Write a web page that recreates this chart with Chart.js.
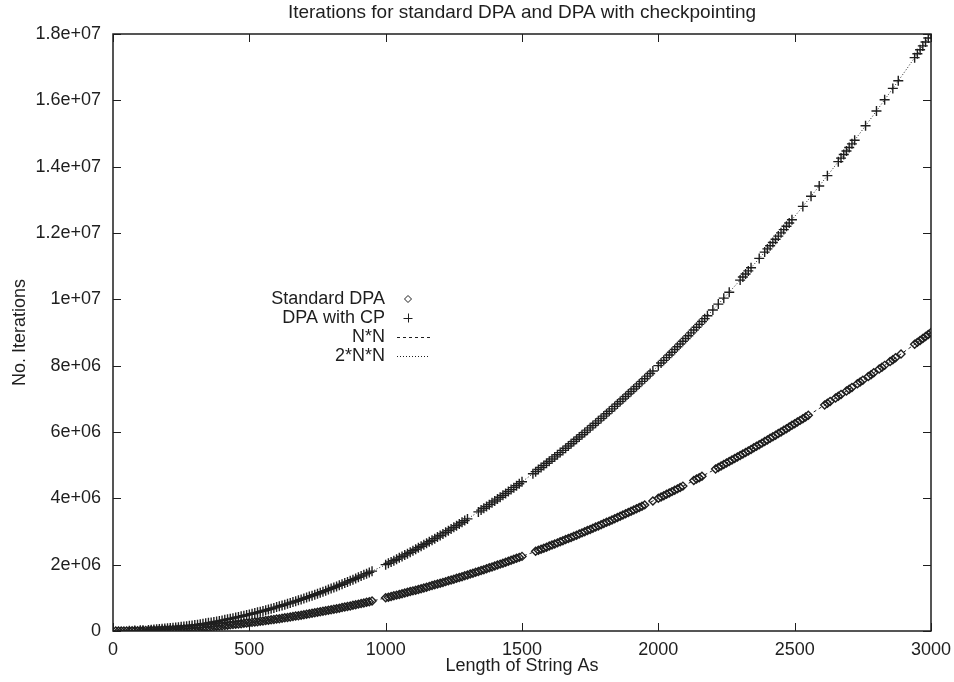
<!DOCTYPE html>
<html><head><meta charset="utf-8">
<script src="https://cdn.jsdelivr.net/npm/chart.js@4.4.1/dist/chart.umd.min.js"></script>
<style>html,body{margin:0;padding:0;background:#fff}</style>
</head><body>
<canvas id="c" width="954" height="682"></canvas>
<script>
const chartTitle = "Iterations for standard DPA and DPA with checkpointing";
const xAxisTitle = "Length of String As";
const yAxisTitle = "No. Iterations";
const seriesLabels = ["Standard DPA", "DPA with CP", "N*N", "2*N*N"];
const xTicks = [0, 500, 1000, 1500, 2000, 2500, 3000];
const xTickLabels = ["0", "500", "1000", "1500", "2000", "2500", "3000"];
const yTicks = [0, 2e6, 4e6, 6e6, 8e6, 1e7, 1.2e7, 1.4e7, 1.6e7, 1.8e7];
const yTickLabels = ["0", "2e+06", "4e+06", "6e+06", "8e+06", "1e+07", "1.2e+07", "1.4e+07", "1.6e+07", "1.8e+07"];

const stdX = [10,50,70,90,100,120,140,150,170,190,200,220,240,250,270,290,310,330,340,360,380,400,420,430,450,470,490,510,530,550,560,580,600,620,640,660,680,690,710,730,750,770,790,800,820,840,860,880,900,910,930,950,1000,1010,1030,1050,1070,1090,1110,1130,1150,1170,1190,1210,1230,1250,1270,1290,1300,1320,1340,1360,1380,1400,1420,1440,1460,1480,1490,1500,1550,1570,1590,1610,1630,1640,1660,1680,1700,1720,1740,1760,1780,1800,1820,1840,1860,1880,1900,1920,1940,1950,1980,2000,2020,2040,2060,2080,2090,2130,2150,2160,2210,2230,2250,2270,2290,2310,2330,2350,2370,2390,2410,2430,2450,2470,2490,2510,2530,2550,2610,2630,2650,2670,2690,2710,2730,2750,2770,2790,2810,2830,2850,2870,2890,2940,2960,2970,2990,3000,
  20,30,40,60,80,110,130,160,180,210,230,260,280,300,320,350,370,390,410,440,460,480,500,520,540,570,590,610,630,650,670,700,720,740,760,780,810,830,850,870,890,920,940,
  1020,1040,1060,1080,1100,1120,1140,1160,1180,1200,1220,1240,1260,1280,1310,1330,1350,1370,1390,1410,1430,1450,1470,
  1560,1580,1600,1620,1650,1670,1690,1710,1730,1750,1770,1790,1810,1830,1850,1870,1890,1910,1930,
  2010,2030,2050,2070,2140,2220,2240,2260,2280,2300,2320,2340,2360,2380,2400,2420,2440,2460,2480,2500,2520,2540,
  2620,2660,2700,2740,2780,2820,2860,2950,2980];
const stdY = [100,2500,4900,8100,10000,14400,19600,22500,28900,36100,40000,48400,57600,62500,72900,84100,96100,108900,115600,129600,144400,160000,176400,184900,202500,220900,240100,260100,280900,302500,313600,336400,360000,384400,409600,435600,462400,476100,504100,532900,562500,592900,624100,640000,672400,705600,739600,774400,810000,828100,864900,902500,1000000,1020100,1060900,1102500,1144900,1188100,1232100,1276900,1322500,1368900,1416100,1464100,1512900,1562500,1612900,1664100,1690000,1742400,1795600,1849600,1904400,1960000,2016400,2073600,2131600,2190400,2220100,2250000,2402500,2464900,2528100,2592100,2656900,2689600,2755600,2822400,2890000,2958400,3027600,3097600,3168400,3240000,3312400,3385600,3459600,3534400,3610000,3686400,3763600,3802500,3920400,4000000,4080400,4161600,4243600,4326400,4368100,4536900,4622500,4665600,4884100,4972900,5062500,5152900,5244100,5336100,5428900,5522500,5616900,5712100,5808100,5904900,6002500,6100900,6200100,6300100,6400900,6502500,6812100,6916900,7022500,7128900,7236100,7344100,7452900,7562500,7672900,7784100,7896100,8008900,8122500,8236900,8352100,8643600,8761600,8820900,8940100,9000000,
  400,900,1600,3600,6400,12100,16900,25600,32400,44100,52900,67600,78400,90000,102400,122500,136900,152100,168100,193600,211600,230400,250000,270400,291600,324900,348100,372100,396900,422500,448900,490000,518400,547600,577600,608400,656100,688900,722500,756900,792100,846400,883600,
  1040400,1081600,1123600,1166400,1210000,1254400,1299600,1345600,1392400,1440000,1488400,1537600,1587600,1638400,1716100,1768900,1822500,1876900,1932100,1988100,2044900,2102500,2160900,
  2433600,2496400,2560000,2624400,2722500,2788900,2856100,2924100,2992900,3062500,3132900,3204100,3276100,3348900,3422500,3496900,3572100,3648100,3724900,
  4040100,4120900,4202500,4284900,4579600,4928400,5017600,5107600,5198400,5290000,5382400,5475600,5569600,5664400,5760000,5856400,5953600,6051600,6150400,6250000,6350400,6451600,
  6864400,7075600,7290000,7507600,7728400,7952400,8179600,8702500,8880400];

const cpX = [60,80,100,130,150,170,190,210,230,250,270,280,300,320,340,360,380,400,420,440,460,480,500,520,540,560,580,600,620,640,660,680,700,720,740,760,780,800,820,840,860,880,900,920,940,950,1000,1020,1040,1060,1080,1100,1120,1140,1160,1180,1200,1220,1240,1260,1280,1300,1340,1360,1380,1400,1420,1440,1460,1480,1500,1540,1560,1580,1600,1620,1640,1660,1680,1700,1720,1740,1760,1780,1800,1820,1840,1860,1880,1900,1920,1940,1960,1980,2000,2020,2040,2060,2080,2100,2120,2140,2160,2180,2200,2220,2240,2260,2300,2320,2340,2370,2390,2410,2430,2450,2470,2490,2530,2560,2590,2620,2660,2680,2700,2720,2760,2800,2830,2860,2880,2940,2960,2970,2980,2990,3000,
  110,140,160,180,200,220,240,260,290,310,330,350,370,390,410,430,450,470,490,510,530,550,570,590,610,630,650,670,690,710,730,750,770,790,810,830,850,870,890,910,930,
  1010,1030,1050,1070,1090,1110,1130,1150,1170,1190,1210,1230,1250,1270,1290,1350,1370,1390,1410,1430,1450,1470,1490,
  1550,1570,1590,1610,1630,1650,1670,1690,1710,1730,1750,1770,1790,1810,1830,1850,1870,1890,1910,1930,1950,1970,2010,2030,2050,2070,2090,2110,2130,2150,2170,
  2310,2330,2400,2420,2440,2460,2480,2670,2690,2710,2950];
const cpY = [7200,12800,20000,33800,45000,57800,72200,88200,105800,125000,145800,156800,180000,204800,231200,259200,288800,320000,352800,387200,423200,460800,500000,540800,583200,627200,672800,720000,768800,819200,871200,924800,980000,1036800,1095200,1155200,1216800,1280000,1344800,1411200,1479200,1548800,1620000,1692800,1767200,1805000,2000000,2080800,2163200,2247200,2332800,2420000,2508800,2599200,2691200,2784800,2880000,2976800,3075200,3175200,3276800,3380000,3591200,3699200,3808800,3920000,4032800,4147200,4263200,4380800,4500000,4743200,4867200,4992800,5120000,5248800,5379200,5511200,5644800,5780000,5916800,6055200,6195200,6336800,6480000,6624800,6771200,6919200,7068800,7220000,7372800,7527200,7683200,7840800,8000000,8160800,8323200,8487200,8652800,8820000,8988800,9159200,9331200,9504800,9680000,9856800,10035200,10215200,10580000,10764800,10951200,11233800,11424200,11616200,11809800,12005000,12201800,12400200,12801800,13107200,13416200,13728800,14151200,14364800,14580000,14796800,15235200,15680000,16017800,16359200,16588800,17287200,17523200,17641800,17760800,17880200,18000000,
  24200,39200,51200,64800,80000,96800,115200,135200,168200,192200,217800,245000,273800,304200,336200,369800,405000,441800,480200,520200,561800,605000,649800,696200,744200,793800,845000,897800,952200,1008200,1065800,1125000,1185800,1248200,1312200,1377800,1445000,1513800,1584200,1656200,1729800,
  2040200,2121800,2205000,2289800,2376200,2464200,2553800,2645000,2737800,2832200,2928200,3025800,3125000,3225800,3328200,3645000,3753800,3864200,3976200,4089800,4205000,4321800,4440200,
  4805000,4929800,5056200,5184200,5313800,5445000,5577800,5712200,5848200,5985800,6125000,6265800,6408200,6552200,6697800,6845000,6993800,7144200,7296200,7449800,7605000,7761800,8080200,8241800,8405000,8569800,8736200,8904200,9073800,9245000,9417800,
  10672200,10857800,11520000,11712800,11907200,12103200,12300800,14257800,14472200,14688200,17405000];

const curveX = [0,100,200,300,400,500,600,700,800,900,1000,1100,1200,1300,1400,1500,1600,1700,1800,1900,2000,2100,2200,2300,2400,2500,2600,2700,2800,2900,3000];
const nnY = [0,10000,40000,90000,160000,250000,360000,490000,640000,810000,1000000,1210000,1440000,1690000,1960000,2250000,2560000,2890000,3240000,3610000,4000000,4410000,4840000,5290000,5760000,6250000,6760000,7290000,7840000,8410000,9000000];
const nn2Y = [0,20000,80000,180000,320000,500000,720000,980000,1280000,1620000,2000000,2420000,2880000,3380000,3920000,4500000,5120000,5780000,6480000,7220000,8000000,8820000,9680000,10580000,11520000,12500000,13520000,14580000,15680000,16820000,18000000];

const toPts = (xs, ys) => xs.map((x, i) => ({x: x, y: ys[i]}));
const INK = '#1e1e1e';
const FONT = "'Liberation Sans', Arial, Helvetica, sans-serif";

const frameAndLegend = {
  id: 'frameAndLegend',
  afterDatasetsDraw(chart) {
    const ctx = chart.ctx, a = chart.chartArea;
    const xs = chart.scales.x, ys = chart.scales.y;
    ctx.save();
    ctx.font = "19px " + FONT;
    ctx.fillStyle = INK;
    ctx.textAlign = 'center';
    ctx.textBaseline = 'middle';
    ctx.fillText(chartTitle, (a.left + a.right) / 2, 13);

    ctx.strokeStyle = INK;
    ctx.lineWidth = 1;
    ctx.setLineDash([]);
    const tl = 8;
    ctx.beginPath();
    xTicks.forEach(v => {
      const p = Math.round(xs.getPixelForValue(v)) + 0.5;
      ctx.moveTo(p, a.bottom); ctx.lineTo(p, a.bottom - tl);
      ctx.moveTo(p, a.top); ctx.lineTo(p, a.top + tl);
    });
    yTicks.forEach(v => {
      const p = Math.round(ys.getPixelForValue(v)) + 0.5;
      ctx.moveTo(a.left, p); ctx.lineTo(a.left + tl, p);
      ctx.moveTo(a.right, p); ctx.lineTo(a.right - tl, p);
    });
    ctx.stroke();
    ctx.lineWidth = 1.5;
    ctx.strokeRect(a.left, a.top, a.right - a.left, a.bottom - a.top);

    const textRight = 385, symX = 408, lineL = 397, lineR = 430;
    const rowY = [299, 318, 337, 356];
    ctx.font = "18px " + FONT;
    ctx.textAlign = 'right';
    chart.data.datasets.forEach((ds, i) => {
      const y = rowY[i];
      ctx.fillText(ds.label, textRight, y);
      ctx.strokeStyle = INK;
      ctx.lineWidth = 1;
      if (i === 0) {
        ctx.setLineDash([]);
        ctx.beginPath();
        ctx.moveTo(symX, y - 3.5); ctx.lineTo(symX + 3.5, y); ctx.lineTo(symX, y + 3.5); ctx.lineTo(symX - 3.5, y); ctx.closePath();
        ctx.stroke();
      } else if (i === 1) {
        ctx.setLineDash([]);
        ctx.beginPath();
        ctx.moveTo(symX - 4.5, y + 0.5); ctx.lineTo(symX + 4.5, y + 0.5);
        ctx.moveTo(symX + 0.5, y - 4.5); ctx.lineTo(symX + 0.5, y + 4.5);
        ctx.stroke();
      } else {
        ctx.setLineDash(ds.borderDash);
        ctx.beginPath();
        ctx.moveTo(lineL, y + 0.5); ctx.lineTo(lineR, y + 0.5);
        ctx.stroke();
      }
    });
    ctx.restore();
  }
};

new Chart(document.getElementById('c'), {
  type: 'scatter',
  data: {
    datasets: [
      { label: seriesLabels[0], data: toPts(stdX, stdY), pointStyle: 'rectRot', pointRadius: 4,
        borderColor: INK, backgroundColor: 'rgba(0,0,0,0)', borderWidth: 1.4, showLine: false, order: 4 },
      { label: seriesLabels[1], data: toPts(cpX, cpY), pointStyle: 'cross', pointRadius: 5,
        borderColor: INK, backgroundColor: INK, borderWidth: 1.4, showLine: false, order: 3 },
      { label: seriesLabels[2], data: toPts(curveX, nnY), showLine: true, pointRadius: 0,
        borderColor: INK, borderWidth: 1, borderDash: [3, 3], cubicInterpolationMode: 'monotone', order: 2 },
      { label: seriesLabels[3], data: toPts(curveX, nn2Y), showLine: true, pointRadius: 0,
        borderColor: INK, borderWidth: 1, borderDash: [1, 2], cubicInterpolationMode: 'monotone', order: 1 }
    ]
  },
  options: {
    responsive: false,
    animation: false,
    events: [],
    layout: { padding: { left: 0, right: 23, top: 34, bottom: 0 } },
    plugins: {
      legend: { display: false },
      tooltip: { enabled: false },
      title: { display: false }
    },
    scales: {
      x: {
        type: 'linear', min: 0, max: 3000,
        afterBuildTicks: s => { s.ticks = xTicks.map(v => ({ value: v })); },
        afterFit: s => { s.height = 51; s.paddingLeft = 0; s.paddingRight = 0; },
        grid: { display: false, drawTicks: false },
        border: { display: false },
        ticks: { color: INK, font: { family: FONT, size: 18 }, padding: 8, maxRotation: 0,
          callback: (v) => { const i = xTicks.indexOf(v); return i >= 0 ? xTickLabels[i] : ''; } },
        title: { display: true, text: xAxisTitle, color: INK, font: { family: FONT, size: 18 }, padding: { top: 0, bottom: 5 } }
      },
      y: {
        type: 'linear', min: 0, max: 1.8e7,
        afterBuildTicks: s => { s.ticks = yTicks.map(v => ({ value: v })); },
        afterFit: s => { s.width = 113; s.paddingTop = 0; s.paddingBottom = 0; },
        grid: { display: false, drawTicks: false },
        border: { display: false },
        ticks: { color: INK, font: { family: FONT, size: 18 }, padding: 12,
          callback: (v) => { const i = yTicks.indexOf(v); return i >= 0 ? yTickLabels[i] : ''; } },
        title: { display: true, text: yAxisTitle, color: INK, font: { family: FONT, size: 18 }, padding: { top: 9, bottom: 0 } }
      }
    }
  },
  plugins: [frameAndLegend]
});
</script>
</body></html>
